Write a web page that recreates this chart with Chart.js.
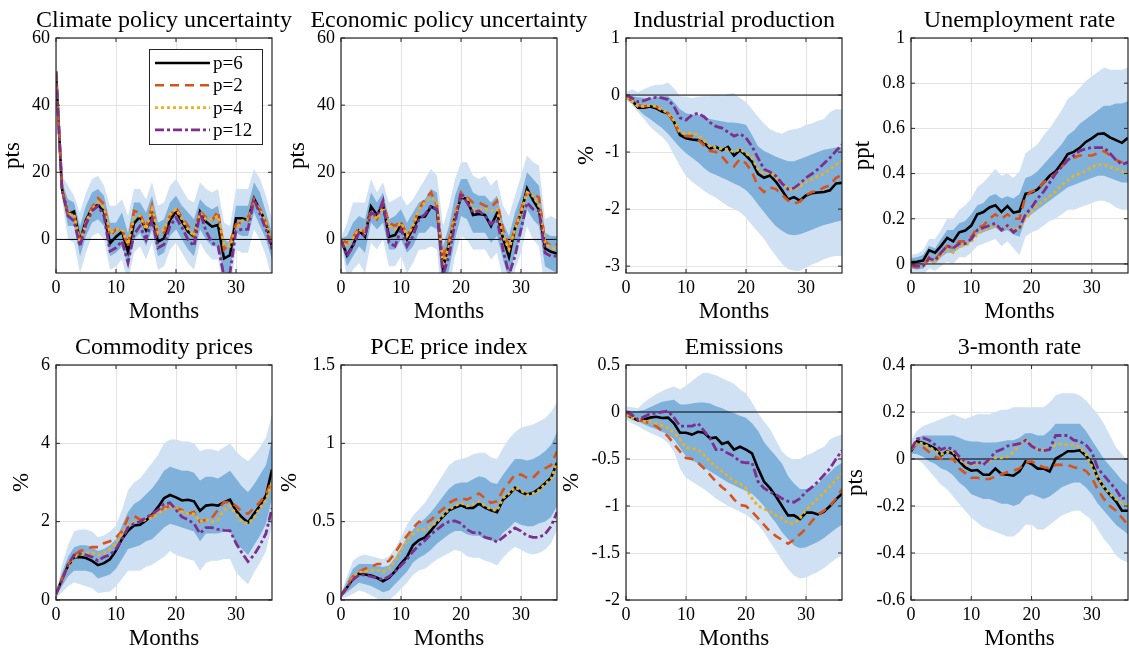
<!DOCTYPE html>
<html>
<head>
<meta charset="utf-8">
<script src="https://cdn.jsdelivr.net/npm/chart.js@4.4.1/dist/chart.umd.min.js"></script>
<style>
  html, body { margin: 0; padding: 0; background: #fff; overflow: hidden; }
  body { width: 1129px; height: 655px; position: relative; }
  canvas { position: absolute; }
</style>
</head>
<body>
<script>
// ---- data ----
const months = [0,1,2,3,4,5,6,7,8,9,10,11,12,13,14,15,16,17,18,19,20,21,22,23,24,25,26,27,28,29,30,31,32,33,34,35,36];
const xTicks = [0, 10, 20, 30];
const xTitle = "Months";
const seriesLabels = ["p=6", "p=2", "p=4", "p=12"];

const panelTitles = ["Climate policy uncertainty", "Economic policy uncertainty", "Industrial production", "Unemployment rate",
                     "Commodity prices", "PCE price index", "Emissions", "3-month rate"];
const yTitles = ["pts", "pts", "%", "ppt", "%", "%", "%", "pts"];
const yTickSets = [
  [0, 20, 40, 60], [0, 20, 40, 60], [-3, -2, -1, 0, 1], [0, 0.2, 0.4, 0.6, 0.8, 1],
  [0, 2, 4, 6], [0, 0.5, 1, 1.5], [-2, -1.5, -1, -0.5, 0, 0.5], [-0.6, -0.4, -0.2, 0, 0.2, 0.4]
];
const yLimits = [[-10, 60], [-10, 60], [-3.12, 1], [-0.04, 1], [0, 6], [0, 1.5], [-2, 0.5], [-0.6, 0.4]];

// Climate policy uncertainty
const cpuP6  = [50,15,7.5,8.3,-0.5,5.8,9.3,10.3,8.3,-1.2,0.8,2.3,-3.7,4.8,6.8,2.8,7.3,-0.7,0.3,5.8,8.3,5.3,2.3,0.8,8.3,5.3,3.8,4.3,-5.7,-4.7,6.3,6.3,5.8,12.2,8.8,4.8,-2.2];
const cpuP2  = [50,15,7.5,7,-1,5,9.5,12.3,10.5,1,3,3,-2,8.5,8,3,10,1,2,7,9.5,6.5,4,1,8.5,6.5,5.5,8.5,-3,-1,4.5,5,6,12,9,5,-2];
const cpuP4  = [50,16,7.5,7.5,-1,5,9,11,9.5,2,3,3,-1.5,6.5,7,3,9,2,3,7.5,9,6,3,1,8,6,6,7,-1.5,-2,3,5.5,6,11,9,5,-2];
const cpuP12 = [50,15,7,5.5,-2,4.5,8.5,10,7,-3.5,-2.5,-0.5,-7,1.5,4,0,6,-2.5,-1.5,4,6.5,3.5,0,-2,8,2.5,-1,-2,-11,-10,2.5,3,3,12,7.5,3,-3];
const cpuOuterHi = [50,19,16,13,8,14,18,19,16,10,10,12,7,15,15,12,17,10,11,16,18,15,12,11,17,15,14,15,5,4,15,15,15,21,18,13,6];
const cpuOuterLo = [50,12,0,-1,-10,-4,1,2,0,-9,-8,-6,-13,-4,-2,-6,-1,-9,-8,-3,-1,-4,-7,-9,-1,-4,-6,-6,-16,-15,-3,-4,-4,3,0,-5,-12];
const cpuInnerHi = [50,17,12,11,4,10,14,15,13,5,5,8,2,11,11,8,13,5,6,11,13,10,8,6,12,10,9,10,0,-1,10,10,10,17,14,8,2];
const cpuInnerLo = [50,13,4,4,-5,1,5,6,4,-5,-4,-2,-8,0,2,-2,3,-5,-4,1,3,0,-3,-5,3,0,-2,-2,-11,-10,2,1,1,8,4,0,-6];

// Economic policy uncertainty
const epuP6  = [0,-4.7,-1.7,2.6,0.8,9.8,7.3,10.5,0.8,1.3,4.3,0,3.3,6.6,6.8,9.8,8.8,-8.7,-1.2,6.8,12.5,12,7.3,7.6,7.3,4,7.8,0.3,-5.2,3.3,7.8,15.2,11.7,8.8,-2.7,-3.7,-4.2];
const epuP2  = [0,-1,0.5,3.5,2,8,6,11,5,4,5.5,1,4,9,12,14,10,-6,0,7,14,12.5,11,11,10,9.5,11.5,3,-2,3,9,14,13.5,12.5,-0.5,-2,-1.5];
const epuP4  = [0,-2,0.5,3,2,8.5,6,9.5,4,3,5,1,4,9,11,12.5,11,-8,-2,7,13,12,9,9,9,8.5,9,1,-3,3,8,14,13,10,-1,-2.5,-3];
const epuP12 = [0,-5,-2,2,1,8,7,11.5,-1,-2,3,-2,1,6,7.5,10,9,-10.5,-5,5,14,11,8,8.5,7,4.5,6,-3,-10.5,-5,3,11,9,8.5,-4,-5,-5];
const epuOuterHi = [0.5,5,11,11,11,18,14,17,11,12,13,10,12,15,18,21,19,4,10,18,23,23,19,18,19,16,18,10,7,13,19,25,23,22,6,7,6];
const epuOuterLo = [-0.5,-12,-9,-7,-10,-1,-3,0,-8,-8,-5,-10,-7,-3,-3,-2,-3,-22,-15,-5,1,0,-3,-3,-3,-6,-4,-12,-17,-9,-4,4,0,-2,-15,-16,-15];
const epuInnerHi = [0.3,1,5,7,6,14,11,14,6,7,9,5,8,11,12,15,14,-2,4,13,18,18,14,13,13,11,13,5,1,8,13,20,18,16,2,1,1];
const epuInnerLo = [-0.3,-8,-5,-2,-4,5,3,5,-3,-3,0,-4,-2,2,2,4,3,-16,-9,0,7,6,2,2,2,-1,1,-6,-12,-4,1,9,6,4,-8,-9,-10];

// Industrial production
const ipP6  = [-0.03,-0.09,-0.22,-0.22,-0.2,-0.23,-0.29,-0.32,-0.47,-0.7,-0.76,-0.78,-0.79,-0.84,-0.94,-0.91,-0.97,-0.91,-1.06,-0.97,-1.06,-1.17,-1.38,-1.45,-1.41,-1.52,-1.67,-1.83,-1.79,-1.85,-1.76,-1.72,-1.71,-1.7,-1.67,-1.55,-1.54];
const ipP2  = [-0.05,-0.08,-0.18,-0.2,-0.18,-0.2,-0.27,-0.32,-0.48,-0.68,-0.72,-0.72,-0.78,-0.88,-0.98,-1.0,-1.08,-1.2,-1.25,-1.12,-1.2,-1.35,-1.6,-1.7,-1.62,-1.65,-1.75,-1.85,-1.9,-1.87,-1.75,-1.7,-1.68,-1.62,-1.58,-1.45,-1.4];
const ipP4  = [-0.05,-0.1,-0.2,-0.2,-0.18,-0.2,-0.25,-0.32,-0.45,-0.65,-0.68,-0.66,-0.7,-0.8,-0.9,-0.92,-0.95,-0.95,-1.0,-0.95,-1.02,-1.1,-1.3,-1.38,-1.35,-1.45,-1.55,-1.65,-1.67,-1.6,-1.52,-1.48,-1.42,-1.38,-1.3,-1.22,-1.15];
const ipP12 = [0,-0.05,-0.12,-0.1,-0.06,-0.04,-0.05,-0.08,-0.2,-0.4,-0.44,-0.35,-0.32,-0.38,-0.48,-0.55,-0.58,-0.65,-0.72,-0.68,-0.75,-0.9,-1.1,-1.3,-1.35,-1.42,-1.55,-1.65,-1.63,-1.55,-1.45,-1.38,-1.3,-1.2,-1.1,-0.98,-0.87];
const ipOuterHi = [0.05,0.1,0.05,0.1,0.15,0.18,0.18,0.22,0.12,-0.02,-0.03,-0.05,-0.03,-0.02,-0.02,0,-0.02,0.02,0.03,-0.05,-0.12,-0.25,-0.38,-0.5,-0.6,-0.65,-0.68,-0.62,-0.6,-0.58,-0.52,-0.5,-0.45,-0.42,-0.3,-0.25,-0.25];
const ipOuterLo = [-0.08,-0.17,-0.3,-0.42,-0.55,-0.65,-0.73,-0.85,-1.05,-1.25,-1.42,-1.52,-1.6,-1.68,-1.75,-1.8,-1.88,-1.95,-2.0,-2.05,-2.15,-2.28,-2.4,-2.52,-2.68,-2.82,-2.96,-3.05,-3.08,-3.08,-3.02,-2.97,-2.93,-2.88,-2.84,-2.82,-2.82];
const ipInnerHi = [0,-0.02,-0.04,-0.05,-0.05,-0.04,-0.02,-0.02,-0.12,-0.25,-0.32,-0.34,-0.35,-0.38,-0.42,-0.44,-0.46,-0.48,-0.48,-0.5,-0.52,-0.7,-0.9,-0.98,-1.03,-1.08,-1.12,-1.16,-1.16,-1.12,-1.08,-1.04,-1.0,-0.96,-0.94,-0.92,-0.91];
const ipInnerLo = [-0.06,-0.15,-0.25,-0.35,-0.42,-0.5,-0.58,-0.68,-0.8,-0.92,-1.02,-1.1,-1.18,-1.28,-1.36,-1.4,-1.45,-1.5,-1.55,-1.6,-1.67,-1.78,-1.92,-2.05,-2.18,-2.3,-2.38,-2.44,-2.46,-2.44,-2.4,-2.36,-2.32,-2.28,-2.25,-2.22,-2.2];

// Unemployment rate
const urP6  = [0.007,0.01,0.015,0.06,0.05,0.08,0.115,0.1,0.14,0.148,0.17,0.22,0.23,0.25,0.26,0.23,0.256,0.227,0.233,0.31,0.316,0.33,0.36,0.39,0.41,0.445,0.486,0.496,0.514,0.54,0.556,0.575,0.578,0.56,0.548,0.536,0.558];
const urP2  = [-0.01,-0.015,-0.01,0.03,0.02,0.05,0.08,0.07,0.1,0.1,0.12,0.16,0.17,0.2,0.22,0.2,0.22,0.2,0.2,0.3,0.32,0.33,0.36,0.38,0.4,0.43,0.46,0.47,0.48,0.48,0.48,0.49,0.5,0.48,0.46,0.45,0.45];
const urP4  = [-0.005,-0.01,-0.01,0.015,0.01,0.04,0.06,0.05,0.08,0.08,0.1,0.13,0.15,0.16,0.17,0.15,0.17,0.15,0.16,0.2,0.23,0.26,0.28,0.3,0.32,0.35,0.37,0.39,0.4,0.41,0.43,0.44,0.44,0.43,0.42,0.41,0.4];
const urP12 = [-0.005,-0.01,-0.01,0.025,0.015,0.05,0.08,0.07,0.09,0.09,0.11,0.15,0.16,0.17,0.18,0.15,0.17,0.14,0.16,0.22,0.25,0.29,0.32,0.36,0.4,0.43,0.46,0.48,0.5,0.51,0.515,0.515,0.515,0.49,0.46,0.44,0.45];
const urOuterHi = [0.04,0.045,0.06,0.11,0.11,0.15,0.2,0.2,0.24,0.26,0.29,0.34,0.36,0.39,0.42,0.39,0.4,0.38,0.41,0.49,0.51,0.53,0.57,0.6,0.64,0.68,0.73,0.75,0.78,0.81,0.83,0.85,0.87,0.86,0.86,0.86,0.87];
const urOuterLo = [-0.04,-0.05,-0.05,-0.02,-0.03,-0.01,0.01,0,0.03,0.03,0.05,0.08,0.09,0.1,0.11,0.08,0.1,0.07,0.04,0.12,0.14,0.15,0.17,0.19,0.2,0.22,0.24,0.24,0.25,0.26,0.27,0.28,0.28,0.27,0.25,0.24,0.24];
const urInnerHi = [0.025,0.03,0.04,0.08,0.07,0.11,0.15,0.15,0.18,0.19,0.22,0.26,0.27,0.3,0.31,0.29,0.3,0.29,0.31,0.38,0.39,0.41,0.44,0.47,0.5,0.53,0.57,0.59,0.62,0.64,0.66,0.68,0.7,0.7,0.71,0.71,0.72];
const urInnerLo = [-0.02,-0.025,-0.02,0.01,0,0.03,0.05,0.05,0.07,0.08,0.1,0.13,0.14,0.15,0.16,0.14,0.15,0.13,0.12,0.2,0.22,0.24,0.26,0.28,0.3,0.32,0.34,0.35,0.36,0.37,0.38,0.39,0.39,0.38,0.37,0.36,0.36];

// Commodity prices
const comP6  = [0.15,0.53,0.87,1.09,1.1,1.07,1.0,0.89,0.94,1.04,1.26,1.56,1.77,1.9,1.92,2.03,2.18,2.37,2.6,2.68,2.62,2.54,2.56,2.52,2.28,2.41,2.43,2.41,2.5,2.56,2.28,2.11,1.98,2.2,2.41,2.67,3.33];
const comP2  = [0.15,0.55,0.9,1.15,1.25,1.3,1.35,1.35,1.45,1.5,1.6,1.75,2.1,2.15,2.05,2.1,2.15,2.25,2.35,2.4,2.35,2.3,2.2,2.25,2.0,2.05,2.1,2.3,2.5,2.5,2.4,2.25,2.2,2.35,2.5,2.7,3.05];
const comP4  = [0.15,0.5,0.85,1.1,1.15,1.2,1.2,1.15,1.2,1.3,1.45,1.7,1.9,2.0,2.0,2.05,2.1,2.2,2.3,2.38,2.35,2.25,2.2,2.2,2.0,2.05,2.0,2.05,2.3,2.4,2.2,2.0,1.95,2.1,2.35,2.55,3.0];
const comP12 = [0.15,0.5,0.9,1.15,1.18,1.15,1.1,1.0,1.1,1.15,1.3,1.55,1.85,1.95,2.0,2.1,2.2,2.3,2.45,2.48,2.3,2.12,2.05,1.95,1.7,1.85,1.85,1.8,1.78,1.77,1.45,1.2,0.98,1.15,1.4,1.7,2.35];
const comOuterHi = [0.15,0.9,1.4,1.75,1.8,1.8,1.75,1.6,1.65,1.75,1.9,2.3,2.8,3.0,3.1,3.3,3.5,3.7,4.0,4.1,4.1,4.05,4.05,4.0,3.8,3.85,3.85,3.8,3.9,4.0,3.8,3.65,3.55,3.7,3.9,4.15,4.75];
const comOuterLo = [0.05,0.2,0.35,0.45,0.4,0.35,0.3,0.18,0.2,0.22,0.35,0.55,0.75,0.75,0.75,0.85,0.9,1.0,1.1,1.25,1.15,1.1,1.05,1.0,0.75,0.95,1.0,1.0,1.05,1.05,0.7,0.55,0.4,0.7,0.95,1.25,1.9];
const comInnerHi = [0.15,0.7,1.1,1.35,1.4,1.4,1.35,1.25,1.3,1.4,1.55,1.9,2.25,2.45,2.55,2.7,2.85,3.05,3.3,3.4,3.35,3.3,3.3,3.25,3.05,3.15,3.15,3.1,3.2,3.3,3.1,2.9,2.75,2.95,3.2,3.45,4.1];
const comInnerLo = [0.1,0.35,0.6,0.75,0.75,0.75,0.7,0.55,0.6,0.65,0.8,1.05,1.3,1.35,1.4,1.5,1.55,1.7,1.85,1.95,1.9,1.85,1.8,1.75,1.5,1.7,1.7,1.7,1.75,1.75,1.45,1.3,1.15,1.4,1.65,1.95,2.6];

// PCE price index
const pceP6  = [0.028,0.08,0.135,0.168,0.163,0.157,0.142,0.12,0.142,0.183,0.232,0.275,0.35,0.383,0.4,0.443,0.49,0.533,0.572,0.59,0.604,0.587,0.587,0.615,0.59,0.572,0.561,0.64,0.673,0.716,0.688,0.673,0.684,0.71,0.744,0.78,0.877];
const pceP2  = [0.03,0.09,0.15,0.18,0.2,0.21,0.23,0.23,0.25,0.3,0.36,0.41,0.46,0.5,0.49,0.51,0.55,0.58,0.62,0.64,0.65,0.64,0.66,0.68,0.65,0.62,0.63,0.7,0.75,0.8,0.8,0.78,0.78,0.82,0.84,0.86,0.95];
const pceP4  = [0.03,0.08,0.14,0.18,0.18,0.19,0.19,0.18,0.2,0.25,0.32,0.38,0.42,0.45,0.45,0.47,0.5,0.54,0.58,0.6,0.62,0.6,0.61,0.63,0.6,0.58,0.57,0.65,0.68,0.72,0.7,0.67,0.68,0.7,0.74,0.77,0.88];
const pceP12 = [0.03,0.08,0.13,0.16,0.16,0.15,0.14,0.13,0.15,0.18,0.22,0.26,0.31,0.35,0.38,0.42,0.45,0.48,0.5,0.505,0.49,0.45,0.43,0.43,0.4,0.39,0.37,0.4,0.43,0.46,0.44,0.41,0.4,0.4,0.42,0.47,0.56];
const pceOuterHi = [0.04,0.15,0.25,0.28,0.29,0.28,0.27,0.26,0.28,0.33,0.4,0.48,0.54,0.58,0.62,0.68,0.74,0.8,0.86,0.89,0.9,0.91,0.93,0.94,0.94,0.91,0.9,0.97,1.03,1.07,1.1,1.11,1.12,1.14,1.16,1.2,1.26];
const pceOuterLo = [0.01,0.02,0.04,0.06,0.05,0.03,0.01,-0.01,0,0.03,0.07,0.11,0.16,0.19,0.2,0.23,0.26,0.28,0.3,0.32,0.31,0.28,0.27,0.27,0.25,0.24,0.22,0.27,0.31,0.34,0.32,0.3,0.29,0.3,0.32,0.36,0.45];
const pceInnerHi = [0.035,0.12,0.2,0.23,0.23,0.23,0.22,0.21,0.22,0.27,0.33,0.4,0.45,0.49,0.52,0.56,0.61,0.66,0.71,0.74,0.75,0.75,0.77,0.79,0.78,0.75,0.74,0.8,0.85,0.9,0.9,0.89,0.9,0.92,0.95,0.99,1.07];
const pceInnerLo = [0.02,0.05,0.08,0.11,0.1,0.09,0.07,0.05,0.06,0.1,0.14,0.18,0.24,0.27,0.29,0.32,0.36,0.39,0.42,0.44,0.44,0.42,0.41,0.41,0.39,0.38,0.37,0.43,0.46,0.5,0.48,0.47,0.47,0.49,0.5,0.53,0.6];

// Emissions
const emiP6  = [-0.02,-0.06,-0.09,-0.08,-0.06,-0.05,-0.064,-0.06,-0.12,-0.22,-0.22,-0.24,-0.21,-0.22,-0.28,-0.27,-0.34,-0.32,-0.4,-0.37,-0.4,-0.44,-0.6,-0.74,-0.81,-0.9,-1.0,-1.1,-1.1,-1.14,-1.07,-1.07,-1.09,-1.06,-1.0,-0.93,-0.87];
const emiP2  = [-0.02,-0.05,-0.08,-0.1,-0.12,-0.15,-0.2,-0.26,-0.34,-0.42,-0.49,-0.5,-0.54,-0.6,-0.67,-0.74,-0.8,-0.85,-0.93,-0.99,-1.0,-1.06,-1.13,-1.2,-1.27,-1.32,-1.36,-1.4,-1.36,-1.3,-1.24,-1.16,-1.09,-1.05,-1.0,-0.92,-0.82];
const emiP4  = [-0.03,-0.06,-0.08,-0.1,-0.1,-0.12,-0.14,-0.17,-0.22,-0.29,-0.38,-0.39,-0.4,-0.46,-0.53,-0.58,-0.63,-0.68,-0.74,-0.76,-0.81,-0.92,-1.0,-1.03,-1.06,-1.1,-1.13,-1.18,-1.19,-1.13,-1.04,-0.98,-0.92,-0.86,-0.79,-0.72,-0.65];
const emiP12 = [0,-0.03,-0.08,-0.05,-0.02,-0.01,0,0.01,-0.06,-0.15,-0.15,-0.15,-0.12,-0.2,-0.28,-0.4,-0.4,-0.44,-0.47,-0.53,-0.54,-0.54,-0.74,-0.81,-0.85,-0.88,-0.92,-0.95,-0.96,-0.92,-0.85,-0.8,-0.74,-0.67,-0.6,-0.5,-0.41];
const emiOuterHi = [0.06,0.05,0.04,0.1,0.15,0.19,0.22,0.25,0.27,0.24,0.28,0.33,0.38,0.42,0.41,0.39,0.36,0.33,0.3,0.24,0.2,0.1,-0.01,-0.1,-0.18,-0.3,-0.42,-0.48,-0.51,-0.5,-0.46,-0.44,-0.4,-0.37,-0.29,-0.26,-0.24];
const emiOuterLo = [-0.08,-0.12,-0.15,-0.19,-0.22,-0.25,-0.28,-0.33,-0.42,-0.6,-0.7,-0.74,-0.78,-0.82,-0.87,-0.92,-0.96,-1.0,-1.03,-1.06,-1.09,-1.14,-1.2,-1.28,-1.38,-1.48,-1.58,-1.67,-1.74,-1.77,-1.76,-1.73,-1.7,-1.66,-1.61,-1.56,-1.52];
const emiInnerHi = [0.02,0.01,0.01,0.02,0.05,0.08,0.11,0.12,0.13,0.08,0.08,0.09,0.1,0.1,0.09,0.06,0.04,0.01,-0.01,-0.04,-0.06,-0.12,-0.2,-0.32,-0.4,-0.47,-0.55,-0.68,-0.76,-0.82,-0.82,-0.8,-0.76,-0.7,-0.64,-0.58,-0.54];
const emiInnerLo = [-0.05,-0.08,-0.1,-0.13,-0.16,-0.18,-0.21,-0.24,-0.29,-0.38,-0.47,-0.51,-0.55,-0.59,-0.63,-0.67,-0.71,-0.75,-0.78,-0.81,-0.84,-0.87,-0.93,-1.0,-1.1,-1.18,-1.28,-1.35,-1.42,-1.45,-1.44,-1.41,-1.38,-1.34,-1.29,-1.24,-1.2];

// 3-month rate
const tbP6  = [0.033,0.075,0.068,0.058,0.044,0.016,0.033,0.021,-0.01,-0.036,-0.05,-0.047,-0.067,-0.067,-0.041,-0.064,-0.067,-0.071,-0.053,-0.01,-0.021,-0.041,-0.041,-0.053,0.001,0.016,0.033,0.033,0.037,0.014,-0.017,-0.081,-0.121,-0.152,-0.18,-0.22,-0.22];
const tbP2  = [0.04,0.065,0.05,0.03,0.01,0,0,0,-0.04,-0.06,-0.08,-0.08,-0.085,-0.085,-0.075,-0.065,-0.055,-0.05,-0.04,-0.015,-0.01,-0.025,-0.035,-0.04,-0.025,-0.025,-0.025,-0.035,-0.04,-0.05,-0.08,-0.13,-0.17,-0.2,-0.22,-0.25,-0.28];
const tbP4  = [0.04,0.07,0.065,0.05,0.035,0.02,0.03,0.03,0,-0.02,-0.025,-0.02,-0.02,-0.01,0.005,0.005,0.01,0.03,0.06,0.085,0.06,0.04,0.04,0.04,0.06,0.065,0.06,0.06,0.05,0.02,-0.03,-0.08,-0.12,-0.15,-0.17,-0.19,-0.2];
const tbP12 = [0.04,0.085,0.09,0.08,0.06,0.04,0.05,0.04,0.01,-0.01,-0.02,-0.01,-0.025,0,0.03,0.04,0.055,0.06,0.065,0.08,0.055,0.04,0.035,0.04,0.1,0.1,0.1,0.08,0.075,0.06,0.03,-0.04,-0.07,-0.1,-0.13,-0.17,-0.16];
const tbOuterHi = [0.08,0.12,0.14,0.15,0.16,0.17,0.18,0.19,0.18,0.17,0.18,0.19,0.19,0.19,0.2,0.21,0.21,0.22,0.22,0.22,0.22,0.22,0.22,0.24,0.27,0.28,0.28,0.28,0.27,0.25,0.22,0.19,0.15,0.1,0.05,0.02,-0.01];
const tbOuterLo = [0,0,-0.02,-0.05,-0.08,-0.11,-0.13,-0.16,-0.19,-0.22,-0.25,-0.27,-0.29,-0.3,-0.31,-0.32,-0.33,-0.33,-0.31,-0.28,-0.28,-0.3,-0.3,-0.28,-0.26,-0.24,-0.23,-0.22,-0.22,-0.24,-0.26,-0.3,-0.34,-0.37,-0.41,-0.43,-0.44];
const tbInnerHi = [0.05,0.09,0.1,0.1,0.1,0.1,0.1,0.1,0.09,0.08,0.075,0.075,0.07,0.07,0.07,0.075,0.08,0.08,0.09,0.11,0.11,0.1,0.1,0.12,0.15,0.15,0.15,0.15,0.15,0.12,0.08,0.04,0,-0.03,-0.06,-0.09,-0.11];
const tbInnerLo = [0.025,0.02,0.01,-0.01,-0.02,-0.04,-0.05,-0.07,-0.1,-0.12,-0.15,-0.16,-0.17,-0.17,-0.18,-0.19,-0.19,-0.2,-0.19,-0.16,-0.15,-0.16,-0.17,-0.16,-0.14,-0.12,-0.11,-0.1,-0.1,-0.12,-0.15,-0.19,-0.22,-0.25,-0.28,-0.3,-0.32];

const panelSeries = [
  {p6: cpuP6, p2: cpuP2, p4: cpuP4, p12: cpuP12, outerHi: cpuOuterHi, outerLo: cpuOuterLo, innerHi: cpuInnerHi, innerLo: cpuInnerLo},
  {p6: epuP6, p2: epuP2, p4: epuP4, p12: epuP12, outerHi: epuOuterHi, outerLo: epuOuterLo, innerHi: epuInnerHi, innerLo: epuInnerLo},
  {p6: ipP6, p2: ipP2, p4: ipP4, p12: ipP12, outerHi: ipOuterHi, outerLo: ipOuterLo, innerHi: ipInnerHi, innerLo: ipInnerLo},
  {p6: urP6, p2: urP2, p4: urP4, p12: urP12, outerHi: urOuterHi, outerLo: urOuterLo, innerHi: urInnerHi, innerLo: urInnerLo},
  {p6: comP6, p2: comP2, p4: comP4, p12: comP12, outerHi: comOuterHi, outerLo: comOuterLo, innerHi: comInnerHi, innerLo: comInnerLo},
  {p6: pceP6, p2: pceP2, p4: pceP4, p12: pceP12, outerHi: pceOuterHi, outerLo: pceOuterLo, innerHi: pceInnerHi, innerLo: pceInnerLo},
  {p6: emiP6, p2: emiP2, p4: emiP4, p12: emiP12, outerHi: emiOuterHi, outerLo: emiOuterLo, innerHi: emiInnerHi, innerLo: emiInnerLo},
  {p6: tbP6, p2: tbP2, p4: tbP4, p12: tbP12, outerHi: tbOuterHi, outerLo: tbOuterLo, innerHi: tbInnerHi, innerLo: tbInnerLo}
];

// ---- layout & style ----
const FONT = '"Liberation Serif", "Times New Roman", serif';
const plotLeft = [56, 341, 626, 911];
const plotW = [216, 216, 216, 217];
const plotTop = [38, 365];
const plotH = 235;
const axisW = [57, 57, 53, 62, 48, 65, 68, 69];
const TOP = 38, XAXIS_H = 57;

const frame = {
  id: 'frame',
  afterDatasetsDraw(chart, args, opts) {
    const {ctx, chartArea: a, scales: {x, y}} = chart;
    ctx.save();
    ctx.strokeStyle = '#262626';
    ctx.lineWidth = 1;
    ctx.beginPath();
    x.ticks.forEach(t => {
      const px = x.getPixelForValue(t.value);
      ctx.moveTo(px, a.bottom); ctx.lineTo(px, a.bottom - 4);
      ctx.moveTo(px, a.top); ctx.lineTo(px, a.top + 4);
    });
    y.ticks.forEach(t => {
      const py = y.getPixelForValue(t.value);
      ctx.moveTo(a.left, py); ctx.lineTo(a.left + 4, py);
      ctx.moveTo(a.right, py); ctx.lineTo(a.right - 4, py);
    });
    ctx.stroke();
    ctx.lineWidth = 1.2;
    ctx.strokeRect(a.left, a.top, a.right - a.left, a.bottom - a.top);
    ctx.fillStyle = '#000';
    ctx.font = '24px ' + FONT;
    ctx.textAlign = 'center';
    ctx.textBaseline = 'alphabetic';
    ctx.fillText(opts.title, (a.left + a.right) / 2, a.top - 11);
    ctx.restore();
  }
};

const boxLegend = {
  id: 'boxLegend',
  afterDraw(chart, args, opts) {
    if (!opts.show) return;
    const {ctx, chartArea: a} = chart;
    const bx = a.left + 93, by = a.top + 11, bw = 113, bh = 95;
    ctx.save();
    ctx.fillStyle = '#fff';
    ctx.fillRect(bx, by, bw, bh);
    ctx.strokeStyle = '#262626';
    ctx.lineWidth = 1;
    ctx.strokeRect(bx + 0.5, by + 0.5, bw, bh);
    seriesLabels.forEach((lab, i) => {
      const d = chart.data.datasets.find(ds => ds.label === lab);
      const yy = by + 14 + i * 22.3;
      ctx.strokeStyle = d.borderColor;
      ctx.lineWidth = d.borderWidth;
      ctx.setLineDash(d.borderDash || []);
      ctx.beginPath();
      ctx.moveTo(bx + 6, yy);
      ctx.lineTo(bx + 61, yy);
      ctx.stroke();
      ctx.setLineDash([]);
      ctx.fillStyle = '#000';
      ctx.font = '19px ' + FONT;
      ctx.textAlign = 'left';
      ctx.textBaseline = 'middle';
      ctx.fillText(lab, bx + 64, yy + 1);
    });
    ctx.restore();
  }
};

const pts = arr => months.map((m, i) => ({x: m, y: arr[i]}));

function makeDatasets(s) {
  const band = (arr, color, fill) => ({
    data: pts(arr), borderWidth: 0, borderColor: 'transparent',
    backgroundColor: color, fill: fill
  });
  // index 0 is drawn last (on top)
  return [
    {label: seriesLabels[3], data: pts(s.p12), borderColor: '#7E2F8E', borderWidth: 2.8, borderDash: [9, 3, 3, 3]},
    {label: seriesLabels[2], data: pts(s.p4), borderColor: '#EDB120', borderWidth: 2.8, borderDash: [3, 3]},
    {label: seriesLabels[1], data: pts(s.p2), borderColor: '#D95319', borderWidth: 2.6, borderDash: [9, 6]},
    {label: seriesLabels[0], data: pts(s.p6), borderColor: '#000000', borderWidth: 2.6},
    {data: [{x: months[0], y: 0}, {x: months[months.length - 1], y: 0}], borderColor: '#000', borderWidth: 1},
    band(s.innerLo, '#80b1da', false),
    band(s.innerHi, '#80b1da', '-1'),
    band(s.outerLo, '#cfe1f2', false),
    band(s.outerHi, '#cfe1f2', '-1')
  ];
}

panelSeries.forEach((s, k) => {
  const col = k % 4, row = Math.floor(k / 4);
  const padRight = col === 3 ? 1 : 32;
  const w = axisW[k] + plotW[col] + padRight;
  const h = TOP + plotH + XAXIS_H;
  const cv = document.createElement('canvas');
  cv.width = w; cv.height = h;
  cv.style.width = w + 'px'; cv.style.height = h + 'px';
  cv.style.left = (plotLeft[col] - axisW[k]) + 'px';
  cv.style.top = (plotTop[row] - TOP) + 'px';
  document.body.appendChild(cv);

  new Chart(cv, {
    type: 'line',
    data: {datasets: makeDatasets(s)},
    options: {
      responsive: false,
      animation: false,
      events: [],
      layout: {padding: {left: 0, top: TOP, right: padRight, bottom: 0}},
      elements: {point: {radius: 0}, line: {tension: 0}},
      plugins: {
        legend: {display: false},
        tooltip: {enabled: false},
        frame: {title: panelTitles[k]},
        boxLegend: {show: k === 0}
      },
      scales: {
        x: {
          type: 'linear',
          min: months[0], max: months[months.length - 1],
          afterBuildTicks: sc => { sc.ticks = xTicks.map(v => ({value: v})); },
          afterFit: sc => { sc.height = XAXIS_H; },
          grid: {color: '#e3e3e3', drawTicks: false},
          border: {display: false},
          ticks: {padding: 4, color: '#000', maxRotation: 0, autoSkip: false,
                  font: {family: FONT, size: 18}, callback: v => String(v)},
          title: {display: true, text: xTitle, color: '#000',
                  font: {family: FONT, size: 23}, padding: {top: 0, bottom: 4}}
        },
        y: {
          min: yLimits[k][0], max: yLimits[k][1],
          afterBuildTicks: sc => { sc.ticks = yTickSets[k].map(v => ({value: v})); },
          afterFit: sc => { sc.width = axisW[k]; },
          grid: {color: '#e3e3e3', drawTicks: false},
          border: {display: false},
          ticks: {padding: 6, color: '#000', autoSkip: false,
                  font: {family: FONT, size: 18}, callback: v => String(v)},
          title: {display: true, text: yTitles[k], color: '#000',
                  font: {family: FONT, size: 23}, padding: 0}
        }
      }
    },
    plugins: [frame, boxLegend]
  });
});
</script>
</body>
</html>
